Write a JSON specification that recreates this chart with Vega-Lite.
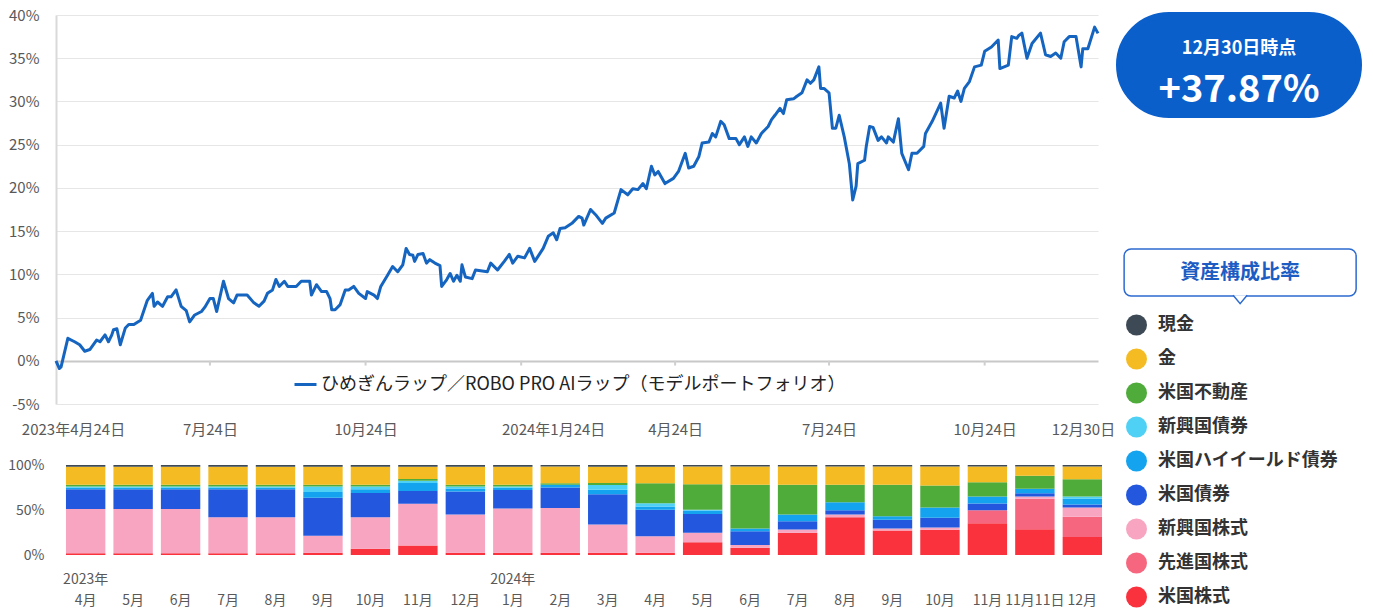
{
  "$schema": "https://vega.github.io/schema/vega-lite/v6.json",
  "background": "white",
  "padding": {"left": 7, "top": 8, "right": 0, "bottom": 0},
  "config": {
    "font": "Noto Sans CJK JP",
    "view": {"stroke": null},
    "axis": {"labelFont": "Noto Sans CJK JP"},
    "legend": {"labelFont": "Noto Sans CJK JP"}
  },
  "datasets": {
    "perf": [
      {"d":"2023-04-24","v":0},{"d":"2023-04-26","v":-0.9},{"d":"2023-04-27","v":-0.7},{"d":"2023-05-01","v":2.6},{"d":"2023-05-05","v":2.2},{"d":"2023-05-08","v":1.85},{"d":"2023-05-11","v":1.1},{"d":"2023-05-14","v":1.3},{"d":"2023-05-16","v":1.85},{"d":"2023-05-18","v":2.4},{"d":"2023-05-20","v":2.2},{"d":"2023-05-23","v":3.0},{"d":"2023-05-25","v":2.2},{"d":"2023-05-27","v":3.0},{"d":"2023-05-28","v":3.6},{"d":"2023-05-30","v":3.7},
      {"d":"2023-06-01","v":1.85},{"d":"2023-06-04","v":3.8},{"d":"2023-06-06","v":4.2},{"d":"2023-06-09","v":4.2},{"d":"2023-06-13","v":4.7},{"d":"2023-06-17","v":7.0},{"d":"2023-06-20","v":7.8},{"d":"2023-06-21","v":6.3},{"d":"2023-06-23","v":6.8},{"d":"2023-06-26","v":6.3},{"d":"2023-06-29","v":7.4},
      {"d":"2023-07-01","v":7.4},{"d":"2023-07-04","v":8.2},{"d":"2023-07-07","v":6.3},{"d":"2023-07-10","v":5.8},{"d":"2023-07-12","v":4.5},{"d":"2023-07-15","v":5.3},{"d":"2023-07-19","v":5.7},{"d":"2023-07-21","v":6.2},{"d":"2023-07-24","v":7.2},{"d":"2023-07-26","v":7.2},{"d":"2023-07-28","v":5.7},
      {"d":"2023-08-01","v":9.2},{"d":"2023-08-04","v":7.2},{"d":"2023-08-07","v":6.7},{"d":"2023-08-09","v":7.6},{"d":"2023-08-15","v":7.6},{"d":"2023-08-19","v":6.7},{"d":"2023-08-22","v":6.3},{"d":"2023-08-25","v":6.9},{"d":"2023-08-27","v":7.8},{"d":"2023-08-30","v":8.2},
      {"d":"2023-09-01","v":9.4},{"d":"2023-09-03","v":8.6},{"d":"2023-09-06","v":9.2},{"d":"2023-09-08","v":8.6},{"d":"2023-09-13","v":8.6},{"d":"2023-09-16","v":9.2},{"d":"2023-09-21","v":9.2},{"d":"2023-09-22","v":7.6},{"d":"2023-09-25","v":8.8},{"d":"2023-09-28","v":8.0},
      {"d":"2023-10-01","v":8.0},{"d":"2023-10-03","v":7.2},{"d":"2023-10-04","v":5.9},{"d":"2023-10-06","v":5.9},{"d":"2023-10-09","v":6.5},{"d":"2023-10-12","v":8.2},{"d":"2023-10-14","v":8.2},{"d":"2023-10-17","v":8.6},{"d":"2023-10-20","v":7.8},{"d":"2023-10-24","v":7.2},{"d":"2023-10-25","v":8.0},{"d":"2023-10-29","v":7.6},{"d":"2023-10-31","v":7.2},
      {"d":"2023-11-02","v":8.6},{"d":"2023-11-06","v":9.9},{"d":"2023-11-09","v":10.9},{"d":"2023-11-12","v":10.3},{"d":"2023-11-15","v":11.1},{"d":"2023-11-17","v":13.0},{"d":"2023-11-19","v":12.3},{"d":"2023-11-21","v":12.2},{"d":"2023-11-22","v":11.5},{"d":"2023-11-24","v":12.3},{"d":"2023-11-27","v":12.4},{"d":"2023-11-29","v":11.3},
      {"d":"2023-12-01","v":11.7},{"d":"2023-12-04","v":11.3},{"d":"2023-12-07","v":11.0},{"d":"2023-12-08","v":8.6},{"d":"2023-12-11","v":9.4},{"d":"2023-12-13","v":10.1},{"d":"2023-12-15","v":9.2},{"d":"2023-12-17","v":9.9},{"d":"2023-12-19","v":9.2},{"d":"2023-12-20","v":11.1},{"d":"2023-12-22","v":9.7},{"d":"2023-12-26","v":9.5},{"d":"2023-12-28","v":10.5},
      {"d":"2024-01-04","v":10.3},{"d":"2024-01-06","v":11.3},{"d":"2024-01-10","v":10.5},{"d":"2024-01-14","v":11.5},{"d":"2024-01-17","v":12.3},{"d":"2024-01-19","v":11.3},{"d":"2024-01-22","v":12.1},{"d":"2024-01-26","v":11.9},{"d":"2024-01-29","v":13.0},
      {"d":"2024-02-01","v":11.5},{"d":"2024-02-04","v":12.4},{"d":"2024-02-06","v":13.0},{"d":"2024-02-09","v":14.4},{"d":"2024-02-12","v":14.8},{"d":"2024-02-14","v":14.0},{"d":"2024-02-16","v":15.3},{"d":"2024-02-19","v":15.4},{"d":"2024-02-23","v":15.9},{"d":"2024-02-27","v":16.7},{"d":"2024-02-29","v":16.5},
      {"d":"2024-03-01","v":15.7},{"d":"2024-03-05","v":17.5},{"d":"2024-03-08","v":16.9},{"d":"2024-03-12","v":15.9},{"d":"2024-03-14","v":16.5},{"d":"2024-03-19","v":17.1},{"d":"2024-03-23","v":19.8},{"d":"2024-03-27","v":19.2},{"d":"2024-03-30","v":19.9},
      {"d":"2024-04-02","v":19.8},{"d":"2024-04-05","v":20.5},{"d":"2024-04-07","v":19.9},{"d":"2024-04-10","v":22.5},{"d":"2024-04-12","v":21.5},{"d":"2024-04-14","v":21.9},{"d":"2024-04-18","v":20.5},{"d":"2024-04-23","v":21.1},{"d":"2024-04-26","v":21.9},{"d":"2024-04-30","v":24.0},
      {"d":"2024-05-02","v":22.3},{"d":"2024-05-05","v":22.5},{"d":"2024-05-08","v":23.6},{"d":"2024-05-10","v":25.2},{"d":"2024-05-14","v":25.3},{"d":"2024-05-16","v":26.3},{"d":"2024-05-18","v":25.9},{"d":"2024-05-21","v":27.7},{"d":"2024-05-23","v":27.3},{"d":"2024-05-26","v":25.7},{"d":"2024-05-30","v":25.7},
      {"d":"2024-06-01","v":25.0},{"d":"2024-06-04","v":25.9},{"d":"2024-06-06","v":24.8},{"d":"2024-06-08","v":25.9},{"d":"2024-06-11","v":25.2},{"d":"2024-06-14","v":26.3},{"d":"2024-06-18","v":27.1},{"d":"2024-06-20","v":27.9},{"d":"2024-06-22","v":28.4},{"d":"2024-06-25","v":29.2},{"d":"2024-06-27","v":28.6},{"d":"2024-06-29","v":30.2},
      {"d":"2024-07-03","v":30.3},{"d":"2024-07-05","v":30.6},{"d":"2024-07-08","v":31.0},{"d":"2024-07-11","v":32.5},{"d":"2024-07-13","v":32.1},{"d":"2024-07-15","v":32.5},{"d":"2024-07-18","v":34.0},{"d":"2024-07-19","v":31.5},{"d":"2024-07-21","v":31.5},{"d":"2024-07-24","v":31.0},{"d":"2024-07-26","v":26.9},{"d":"2024-07-28","v":26.9},{"d":"2024-07-30","v":28.4},
      {"d":"2024-08-02","v":25.9},{"d":"2024-08-05","v":22.8},{"d":"2024-08-07","v":18.6},{"d":"2024-08-09","v":20.2},{"d":"2024-08-10","v":22.8},{"d":"2024-08-14","v":23.2},{"d":"2024-08-15","v":24.8},{"d":"2024-08-17","v":27.1},{"d":"2024-08-19","v":27.0},{"d":"2024-08-22","v":25.5},{"d":"2024-08-24","v":25.9},{"d":"2024-08-27","v":25.2},{"d":"2024-08-28","v":25.9},{"d":"2024-08-31","v":25.3},
      {"d":"2024-09-03","v":28.0},{"d":"2024-09-05","v":24.0},{"d":"2024-09-09","v":22.1},{"d":"2024-09-11","v":24.0},{"d":"2024-09-14","v":24.0},{"d":"2024-09-18","v":24.8},{"d":"2024-09-19","v":26.3},{"d":"2024-09-23","v":27.7},{"d":"2024-09-28","v":29.8},{"d":"2024-09-30","v":26.9},
      {"d":"2024-10-03","v":30.6},{"d":"2024-10-06","v":30.4},{"d":"2024-10-08","v":31.2},{"d":"2024-10-10","v":30.0},{"d":"2024-10-12","v":31.5},{"d":"2024-10-15","v":32.3},{"d":"2024-10-18","v":34.0},{"d":"2024-10-22","v":34.2},{"d":"2024-10-24","v":35.8},{"d":"2024-10-28","v":36.3},
      {"d":"2024-11-01","v":37.1},{"d":"2024-11-02","v":33.8},{"d":"2024-11-07","v":34.2},{"d":"2024-11-09","v":37.5},{"d":"2024-11-12","v":37.3},{"d":"2024-11-13","v":37.6},{"d":"2024-11-15","v":37.9},{"d":"2024-11-18","v":35.0},{"d":"2024-11-21","v":36.7},{"d":"2024-11-26","v":37.9},{"d":"2024-11-29","v":35.4},
      {"d":"2024-12-02","v":35.2},{"d":"2024-12-05","v":35.6},{"d":"2024-12-08","v":35.0},{"d":"2024-12-10","v":36.9},{"d":"2024-12-13","v":37.5},{"d":"2024-12-17","v":37.5},{"d":"2024-12-20","v":34.0},{"d":"2024-12-21","v":36.1},{"d":"2024-12-24","v":36.1},{"d":"2024-12-28","v":38.6},{"d":"2024-12-30","v":37.87}
    ],
    "assets": [
      {"asset": "米国株式", "rank": 1},
      {"asset": "先進国株式", "rank": 2},
      {"asset": "新興国株式", "rank": 3},
      {"asset": "米国債券", "rank": 4},
      {"asset": "米国ハイイールド債券", "rank": 5},
      {"asset": "新興国債券", "rank": 6},
      {"asset": "米国不動産", "rank": 7},
      {"asset": "金", "rank": 8},
      {"asset": "現金", "rank": 9}
    ],
    "alloc": [
      {"p":"2023-04","米国株式":2,"先進国株式":0,"新興国株式":49,"米国債券":22,"米国ハイイールド債券":2,"新興国債券":1,"米国不動産":2,"金":20,"現金":2},
      {"p":"2023-05","米国株式":2,"先進国株式":0,"新興国株式":49,"米国債券":22,"米国ハイイールド債券":2,"新興国債券":1,"米国不動産":2,"金":20,"現金":2},
      {"p":"2023-06","米国株式":2,"先進国株式":0,"新興国株式":49,"米国債券":22,"米国ハイイールド債券":2,"新興国債券":1,"米国不動産":2,"金":20,"現金":2},
      {"p":"2023-07","米国株式":2,"先進国株式":0,"新興国株式":40,"米国債券":31,"米国ハイイールド債券":2,"新興国債券":1,"米国不動産":2,"金":20,"現金":2},
      {"p":"2023-08","米国株式":2,"先進国株式":0,"新興国株式":40,"米国債券":31,"米国ハイイールド債券":2,"新興国債券":1,"米国不動産":2,"金":20,"現金":2},
      {"p":"2023-09","米国株式":2.5,"先進国株式":0,"新興国株式":19,"米国債券":42,"米国ハイイールド債券":6.5,"新興国債券":6,"米国不動産":2,"金":20,"現金":2},
      {"p":"2023-10","米国株式":7,"先進国株式":0,"新興国株式":35,"米国債券":27,"米国ハイイールド債券":4,"新興国債券":3,"米国不動産":2,"金":20,"現金":2},
      {"p":"2023-11","米国株式":10.5,"先進国株式":0,"新興国株式":46.5,"米国債券":14,"米国ハイイールド債券":9,"新興国債券":2.5,"米国不動産":2,"金":13.5,"現金":2},
      {"p":"2023-12","米国株式":2.5,"先進国株式":0,"新興国株式":42.5,"米国債券":25.5,"米国ハイイールド債券":3.5,"新興国債券":2,"米国不動産":2,"金":20,"現金":2},
      {"p":"2024-01","米国株式":2.5,"先進国株式":0,"新興国株式":49.5,"米国債券":20.5,"米国ハイイールド債券":2.5,"新興国債券":1.5,"米国不動産":2,"金":20,"現金":2},
      {"p":"2024-02","米国株式":2.5,"先進国株式":0,"新興国株式":49.7,"米国債券":22.8,"米国ハイイールド債券":3,"新興国債券":0,"米国不動産":1.8,"金":18.4,"現金":1.8},
      {"p":"2024-03","米国株式":2.5,"先進国株式":0,"新興国株式":31.3,"米国債券":33.8,"米国ハイイールド債券":4.8,"新興国債券":5.5,"米国不動産":2,"金":18.2,"現金":1.9},
      {"p":"2024-04","米国株式":2.5,"先進国株式":0,"新興国株式":18.4,"米国債券":29.4,"米国ハイイールド債券":3.6,"新興国債券":3.7,"米国不動産":22,"金":18.4,"現金":2},
      {"p":"2024-05","米国株式":14.3,"先進国株式":0,"新興国株式":10.3,"米国債券":21,"米国ハイイールド債券":3.8,"新興国債券":1,"米国不動産":28.3,"金":19.5,"現金":1.8},
      {"p":"2024-06","米国株式":8.1,"先進国株式":0,"新興国株式":2.9,"米国債券":15.5,"米国ハイイールド債券":2.9,"新興国債券":0,"米国不動産":48.6,"金":20.2,"現金":1.8},
      {"p":"2024-07","米国株式":24.6,"先進国株式":0,"新興国株式":3.7,"米国債券":9.2,"米国ハイイールド債券":7.4,"新興国債券":0,"米国不動産":33.1,"金":20.2,"現金":1.8},
      {"p":"2024-08","米国株式":41.9,"先進国株式":0,"新興国株式":3,"米国債券":4.7,"米国ハイイールド債券":8.9,"新興国債券":0,"米国不動産":19.5,"金":20.2,"現金":1.8},
      {"p":"2024-09","米国株式":27.2,"先進国株式":0,"新興国株式":2.2,"米国債券":9.9,"米国ハイイールド債券":3.7,"新興国債券":0,"米国不動産":35,"金":20.2,"現金":1.8},
      {"p":"2024-10","米国株式":28,"先進国株式":0,"新興国株式":2.5,"米国債券":11,"米国ハイイールド債券":11.2,"新興国債券":0,"米国不動産":24.4,"金":21.1,"現金":1.8},
      {"p":"2024-11","米国株式":35.3,"先進国株式":14.5,"新興国株式":0,"米国債券":7.3,"米国ハイイールド債券":8,"新興国債券":0,"米国不動産":15.6,"金":17.5,"現金":1.8},
      {"p":"2024-11b","米国株式":28.7,"先進国株式":33.8,"新興国株式":2.6,"米国債券":3.6,"米国ハイイールド債券":4.8,"新興国債券":0,"米国不動産":14.5,"金":10.2,"現金":1.8},
      {"p":"2024-12","米国株式":20,"先進国株式":22.5,"新興国株式":10.2,"米国債券":3.3,"米国ハイイールド債券":6.5,"新興国債券":2.5,"米国不動産":19.3,"金":13.9,"現金":1.8}
    ]
  },
  "hconcat": [
    {
      "spacing": 21,
      "vconcat": [
        {
          "width": 1042,
          "height": 389,
          "encoding": {
            "x": {
              "field": "d",
              "type": "temporal",
              "scale": {"type": "utc", "domain": [{"year": 2023, "month": 4, "date": 24, "utc": true}, {"year": 2024, "month": 12, "date": 30, "utc": true}], "nice": false},
              "axis": {
                "values": [
                  {"year": 2023, "month": 4, "date": 24, "utc": true},
                  {"year": 2023, "month": 7, "date": 24, "utc": true},
                  {"year": 2023, "month": 10, "date": 24, "utc": true},
                  {"year": 2024, "month": 1, "date": 24, "utc": true},
                  {"year": 2024, "month": 4, "date": 24, "utc": true},
                  {"year": 2024, "month": 7, "date": 24, "utc": true},
                  {"year": 2024, "month": 10, "date": 24, "utc": true},
                  {"year": 2024, "month": 12, "date": 30, "utc": true}
                ],
                "labelExpr": "((utcyear(datum.value) == 2023 && utcmonth(datum.value) == 3) || utcmonth(datum.value) == 0 ? utcyear(datum.value) + '年' : '') + (utcmonth(datum.value) + 1) + '月' + utcdate(datum.value) + '日'",
                "title": null,
                "grid": false,
                "domain": false,
                "ticks": false,
                "labelFlush": false,
                "labelOverlap": false,
                "labelPadding": 18,
                "labelFontSize": 15,
                "labelColor": "#595959",
                "labelOffset": {
                  "condition": [
                    {"test": "utcyear(datum.value) == 2023 && utcmonth(datum.value) == 3", "value": 17},
                    {"test": "utcmonth(datum.value) == 0", "value": 32},
                    {"test": "utcmonth(datum.value) == 11", "value": -15}
                  ],
                  "value": 0
                }
              }
            }
          },
          "layer": [
            {
              "data": {"values": [{"d": "2023-07-24"}, {"d": "2023-10-24"}, {"d": "2024-01-24"}, {"d": "2024-04-24"}, {"d": "2024-07-24"}, {"d": "2024-10-24"}]},
              "mark": {"type": "rule", "color": "#cfcfcf", "strokeWidth": 2},
              "encoding": {"y": {"datum": 0, "type": "quantitative"}, "y2": {"datum": -0.55}}
            },
            {
              "data": {"name": "perf"},
              "mark": {"type": "line", "strokeWidth": 3, "strokeJoin": "round"},
              "encoding": {
                "y": {
                  "field": "v",
                  "type": "quantitative",
                  "scale": {"domain": [-5, 40], "nice": false, "zero": false},
                  "axis": {
                    "values": [-5, 0, 5, 10, 15, 20, 25, 30, 35, 40],
                    "labelExpr": "datum.value + '%'",
                    "title": null,
                    "grid": true,
                    "gridColor": {"condition": {"test": "datum.value == 0", "value": "#c8c8c8"}, "value": "#e6e6e6"},
                    "gridWidth": {"condition": {"test": "datum.value == 0", "value": 2}, "value": 1},
                    "domain": true,
                    "domainColor": "#d9d9d9",
                    "domainWidth": 2,
                    "ticks": false,
                    "labelPadding": 17,
                    "labelFontSize": 15,
                    "labelColor": "#595959",
                    "minExtent": 44,
                    "maxExtent": 44
                  }
                },
                "stroke": {
                  "datum": "ひめぎんラップ／ROBO PRO AIラップ（モデルポートフォリオ）",
                  "type": "nominal",
                  "scale": {"range": ["#1565c0"]},
                  "legend": {
                    "orient": "none",
                    "legendX": 237,
                    "legendY": 357,
                    "title": null,
                    "symbolType": "stroke",
                    "symbolStrokeWidth": 3,
                    "symbolSize": 484,
                    "labelFontSize": 18,
                    "labelColor": "#222222",
                    "labelOffset": 3,
                    "labelLimit": 800
                  }
                }
              }
            }
          ]
        },
        {
          "width": 1056,
          "height": 90,
          "data": {"name": "alloc"},
          "transform": [
            {"fold": ["米国株式", "先進国株式", "新興国株式", "米国債券", "米国ハイイールド債券", "新興国債券", "米国不動産", "金", "現金"], "as": ["asset", "pct"]},
            {"lookup": "asset", "from": {"data": {"name": "assets"}, "key": "asset", "fields": ["rank"]}}
          ],
          "mark": {"type": "bar"},
          "encoding": {
            "x": {
              "field": "p",
              "type": "nominal",
              "sort": null,
              "scale": {"paddingInner": 0.17, "paddingOuter": 0.21},
              "axis": {
                "labelExpr": "[datum.value == '2023-04' ? '2023年' : datum.value == '2024-01' ? '2024年' : ' ', datum.value == '2024-11b' ? '11月11日' : toNumber(substring(datum.value, 5, 7)) + '月']",
                "labelAngle": 0,
                "title": null,
                "domain": false,
                "ticks": false,
                "labelPadding": 17,
                "labelLineHeight": 21,
                "labelFontSize": 14,
                "labelColor": "#595959"
              }
            },
            "y": {
              "field": "pct",
              "type": "quantitative",
              "stack": "normalize",
              "axis": {
                "values": [0, 0.5, 1],
                "format": ".0%",
                "title": null,
                "grid": false,
                "domain": false,
                "ticks": false,
                "labelPadding": 12,
                "labelFontSize": 14,
                "labelColor": "#595959",
                "minExtent": 44,
                "maxExtent": 44
              }
            },
            "order": {"field": "rank", "type": "quantitative", "sort": "ascending"},
            "color": {
              "field": "asset",
              "type": "nominal",
              "scale": {
                "domain": ["現金", "金", "米国不動産", "新興国債券", "米国ハイイールド債券", "米国債券", "新興国株式", "先進国株式", "米国株式"],
                "range": ["#3d4a55", "#f5bb22", "#4fab3a", "#4fd1f5", "#14a3ef", "#2358de", "#f8a5c2", "#f7667f", "#f9323e"]
              },
              "legend": {
                "orient": "none",
                "legendX": 1070,
                "legendY": 299.5,
                "title": null,
                "symbolType": "circle",
                "symbolSize": 441,
                "symbolStrokeWidth": 0,
                "symbolOpacity": 1,
                "labelFontSize": 18,
                "labelFontWeight": "bold",
                "labelColor": "#333333",
                "labelOffset": 11,
                "rowPadding": 13,
                "labelLimit": 300
              }
            }
          }
        }
      ]
    },
    {
      "spacing": 130,
      "center": true,
      "vconcat": [
        {
          "width": 240,
          "height": 100,
          "layer": [
            {
              "data": {"values": [{}]},
              "mark": {"type": "rect", "fill": "#0b5fcb", "stroke": "#0b5fcb", "strokeWidth": 6, "cornerRadius": 50},
              "encoding": {}
            },
            {
              "data": {"values": [{"k": "a", "t": "12月30日時点"}, {"k": "b", "t": "+37.87%"}]},
              "layer": [
                {
                  "transform": [{"filter": "datum.k == 'a'"}],
                  "mark": {"type": "text", "fill": "white", "fontSize": 18, "fontWeight": "bold", "baseline": "middle"},
                  "encoding": {"y": {"field": "k", "type": "nominal", "axis": null, "scale": {"domain": ["a", "b"], "type": "point", "padding": 0.69, "align": 0.59}}, "text": {"field": "t"}}
                },
                {
                  "transform": [{"filter": "datum.k == 'b'"}],
                  "mark": {"type": "text", "fill": "white", "fontSize": 38, "fontWeight": "bold", "baseline": "middle"},
                  "encoding": {"y": {"field": "k", "type": "nominal", "axis": null}, "text": {"field": "t"}}
                }
              ]
            }
          ],
          "resolve": {"scale": {"y": "independent"}}
        },
        {
          "width": 232,
          "height": 47,
          "layer": [
            {
              "data": {"values": [{}]},
              "mark": {"type": "rect", "fill": "white", "stroke": "#2c6ad0", "strokeWidth": 1.5, "cornerRadius": 7},
              "encoding": {}
            },
            {
              "data": {"values": [{"t": "資産構成比率"}]},
              "mark": {"type": "text", "fill": "#1d5cc2", "fontSize": 20, "fontWeight": "bold", "baseline": "middle"},
              "encoding": {"text": {"field": "t"}}
            },
            {
              "data": {"values": [{}]},
              "mark": {"type": "point", "shape": "M-1,-0.1L0,1.1L1,-0.1", "size": 196, "filled": true, "fill": "white", "stroke": "#2c6ad0", "strokeWidth": 1.5, "opacity": 1, "fillOpacity": 1, "strokeOpacity": 1},
              "encoding": {"y": {"datum": 1, "type": "quantitative", "scale": {"domain": [1, 2], "zero": false}, "axis": null}}
            }
          ],
          "resolve": {"scale": {"y": "independent"}}
        }
      ]
    }
  ],
  "spacing": 1
}
